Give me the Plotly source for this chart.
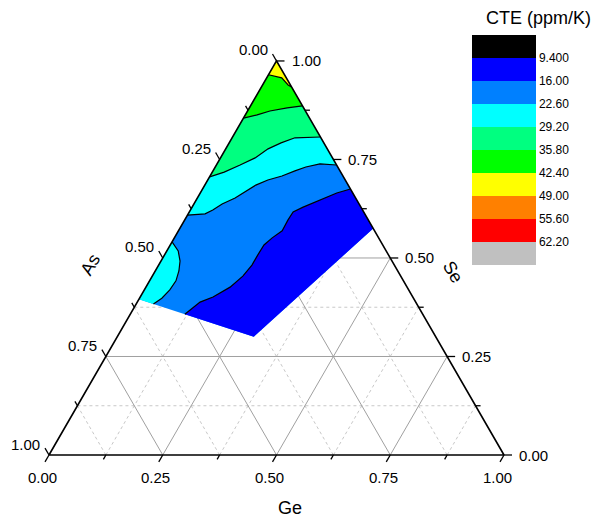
import numpy as np
import plotly.graph_objects as go

# CTE (ppm/K) contour levels and the colour of each band
levels = [9.4, 16.0, 22.6, 29.2, 35.8, 42.4, 49.0, 55.6, 62.2]
band_colors = ["#000000", "#0000FF", "#0080FF", "#00FFFF", "#00FF80",
               "#00FF00", "#FFFF00", "#FF8000", "#FF0000", "#C0C0C0"]

# Mapped composition domain (atomic fractions, As = 1 - Se - Ge)
# corners: Se apex, As-free edge end, lower corner, Ge-free edge end
domain_se = [1.0, 0.575, 0.30, 0.395]
domain_ge = [0.0, 0.425, 0.30, 0.0]

# Isolines (Se, Ge) of the CTE map
iso_16_se = [0.357, 0.388, 0.401, 0.426, 0.454, 0.482, 0.508, 0.533,
             0.551, 0.569, 0.596, 0.617, 0.629, 0.647, 0.665, 0.675]
iso_16_ge = [0.120, 0.138, 0.160, 0.185, 0.199, 0.205, 0.205, 0.206,
             0.215, 0.228, 0.227, 0.228, 0.244, 0.272, 0.300, 0.325]

iso_226_se = [0.609, 0.612, 0.622, 0.637, 0.652, 0.670, 0.685, 0.698,
              0.708, 0.721, 0.731, 0.739, 0.736]
iso_226_ge = [0.000, 0.037, 0.049, 0.062, 0.083, 0.100, 0.112, 0.132,
              0.158, 0.180, 0.199, 0.226, 0.264]

# closed 22.6 contour near the As-rich, Ge-free edge
iso_226b_se = [0.541, 0.518, 0.492, 0.467, 0.442, 0.419, 0.398, 0.383]
iso_226b_ge = [0.000, 0.025, 0.042, 0.052, 0.058, 0.056, 0.049, 0.038]

iso_292_se = [0.706, 0.718, 0.736, 0.754, 0.777, 0.792, 0.805, 0.807, 0.807]
iso_292_ge = [0.000, 0.026, 0.052, 0.076, 0.093, 0.114, 0.138, 0.166, 0.193]

iso_358_se = [0.855, 0.863, 0.873, 0.881, 0.886]
iso_358_ge = [0.000, 0.026, 0.049, 0.083, 0.114]

iso_424_se = [0.965, 0.957, 0.939, 0.934]
iso_424_ge = [0.000, 0.033, 0.056, 0.066]

major_ticks = [0.0, 0.25, 0.5, 0.75, 1.0]
minor_ticks = [0.125, 0.375, 0.625, 0.875]

FONT = "Arial, Liberation Sans, sans-serif"
W, H = 595, 519
SIDE_PX = 455.0          # triangle side length in pixels
OX, OY = 49.0, 64.0      # pixel offset of the As corner from the left / bottom

H3 = np.sqrt(3) / 2


def to_xy(se, ge):
    """Ternary (Se, Ge) -> cartesian with Ge corner at (1,0), Se apex on top."""
    se = np.asarray(se, dtype=float)
    ge = np.asarray(ge, dtype=float)
    return ge + se / 2.0, se * H3


def seg_trace(segments, color, width, dash="solid"):
    xs, ys = [], []
    for (se0, ge0), (se1, ge1) in segments:
        x, y = to_xy([se0, se1], [ge0, ge1])
        xs += list(x) + [None]
        ys += list(y) + [None]
    return go.Scatter(x=xs, y=ys, mode="lines", hoverinfo="skip",
                      line=dict(color=color, width=width, dash=dash))


def grid_segments(vals):
    segs = []
    for v in vals:
        segs.append(((v, 0.0), (v, 1.0 - v)))             # constant Se
        segs.append(((0.0, v), (1.0 - v, v)))             # constant Ge
        segs.append(((0.0, 1.0 - v), (1.0 - v, 0.0)))     # constant As
    return segs


fig = go.Figure()

# grid (drawn first so the map hides it)
fig.add_trace(seg_trace(grid_segments(minor_ticks), "#c8c8c8", 1, "dot"))
fig.add_trace(seg_trace(grid_segments([0.25, 0.5, 0.75]), "#a0a0a0", 1))


def fill_poly(se, ge, color):
    x, y = to_xy(se, ge)
    fig.add_trace(go.Scatter(x=list(x) + [x[0]], y=list(y) + [y[0]],
                             mode="lines", fill="toself", fillcolor=color,
                             line=dict(width=0, color=color),
                             hoverinfo="skip"))


apex = (1.0, 0.0)
p_right = (domain_se[1], domain_ge[1])
p_low = (domain_se[2], domain_ge[2])
p_left = (domain_se[3], domain_ge[3])

# 16.0 - 22.6 band covers the whole domain underneath
fill_poly(domain_se, domain_ge, band_colors[2])
# 9.4 - 16.0 band below the 16.0 isoline
fill_poly(iso_16_se + [p_right[0], p_low[0]],
          iso_16_ge + [p_right[1], p_low[1]], band_colors[1])
# bands above each higher isoline, stacked toward the Se apex
fill_poly(iso_226_se + [apex[0]], iso_226_ge + [apex[1]], band_colors[3])
fill_poly(iso_226b_se + [p_left[0]], iso_226b_ge + [p_left[1]], band_colors[3])
fill_poly(iso_292_se + [apex[0]], iso_292_ge + [apex[1]], band_colors[4])
fill_poly(iso_358_se + [apex[0]], iso_358_ge + [apex[1]], band_colors[5])
fill_poly(iso_424_se + [apex[0]], iso_424_ge + [apex[1]], band_colors[6])

# contour lines
for se, ge in [(iso_16_se, iso_16_ge), (iso_226_se, iso_226_ge),
               (iso_226b_se, iso_226b_ge), (iso_292_se, iso_292_ge),
               (iso_358_se, iso_358_ge), (iso_424_se, iso_424_ge)]:
    x, y = to_xy(se, ge)
    fig.add_trace(go.Scatter(x=x, y=y, mode="lines", hoverinfo="skip",
                             line=dict(color="black", width=1.2)))

# triangle frame
tx, ty = to_xy([0.0, 0.0, 1.0, 0.0], [0.0, 1.0, 0.0, 0.0])
fig.add_trace(go.Scatter(x=tx, y=ty, mode="lines", hoverinfo="skip",
                         line=dict(color="black", width=1.6)))

# tick marks: each one extends its own constant-value line outward
unit = 1.0 / SIDE_PX
tick_dirs = {
    "As": (-0.5, H3),     # up-left off the left edge
    "Ge": (-0.5, -H3),    # down-left off the bottom edge
    "Se": (1.0, 0.0),     # horizontal off the right edge
}


def edge_point(axis, v):
    if axis == "As":
        return to_xy(1.0 - v, 0.0)
    if axis == "Ge":
        return to_xy(0.0, v)
    return to_xy(v, 1.0 - v)


tx, ty = [], []
for axis, (dx, dy) in tick_dirs.items():
    for vals, ln in [(major_ticks, 8), (minor_ticks, 5)]:
        for v in vals:
            x0, y0 = edge_point(axis, v)
            x0, y0 = float(x0), float(y0)
            tx += [x0, x0 + dx * ln * unit, None]
            ty += [y0, y0 + dy * ln * unit, None]
fig.add_trace(go.Scatter(x=tx, y=ty, mode="lines", hoverinfo="skip",
                         line=dict(color="black", width=1.3)))

# colour bar legend, lowest CTE band at the top: the bar runs on -CTE
n_band = len(band_colors)
step = levels[1] - levels[0]
cscale = []
for i, c in enumerate(reversed(band_colors)):
    cscale += [[i / n_band, c], [(i + 1) / n_band, c]]
fig.add_trace(go.Scatter(
    x=[0.5], y=[0.3], mode="markers", hoverinfo="skip",
    marker=dict(size=1, opacity=0, color=[-levels[0]], colorscale=cscale,
                cmin=-(levels[-1] + step), cmax=-(levels[0] - step),
                showscale=True,
                colorbar=dict(
                    x=472 / W, xanchor="left", xpad=0,
                    y=1 - 35 / H, yanchor="top", ypad=0,
                    thickness=64, thicknessmode="pixels",
                    len=230, lenmode="pixels",
                    outlinewidth=0, ticks="", ticklen=0,
                    tickvals=[-v for v in levels],
                    ticktext=[f"{v:#.4g}" for v in levels],
                    tickfont=dict(family=FONT, size=12, color="black"),
                ))))

annotations = []
label_font = dict(family=FONT, size=15, color="black")
for v in major_ticks:
    x, y = edge_point("As", v)
    annotations.append(dict(x=float(x), y=float(y), text=f"{v:.2f}",
                            xanchor="right", yanchor="middle",
                            xshift=-7, yshift=11, showarrow=False,
                            font=label_font))
    x, y = edge_point("Ge", v)
    annotations.append(dict(x=float(x), y=float(y), text=f"{v:.2f}",
                            xanchor="center", yanchor="middle",
                            xshift=-7, yshift=-22, showarrow=False,
                            font=label_font))
    x, y = edge_point("Se", v)
    annotations.append(dict(x=float(x), y=float(y), text=f"{v:.2f}",
                            xanchor="left", yanchor="middle",
                            xshift=13, yshift=0, showarrow=False,
                            font=label_font))

title_font = dict(family=FONT, size=18, color="black")
centered = dict(xref="paper", yref="paper", xanchor="center",
                yanchor="middle", showarrow=False, font=title_font)
annotations += [
    dict(x=290 / W, y=1 - 508 / H, text="Ge", **centered),
    dict(x=90 / W, y=1 - 265 / H, text="As", textangle=-60, **centered),
    dict(x=453 / W, y=1 - 272 / H, text="Se", textangle=60, **centered),
    dict(x=538 / W, y=1 - 18 / H, text="CTE (ppm/K)", **centered),
]

fig.update_layout(
    width=W, height=H,
    margin=dict(l=0, r=0, t=0, b=0),
    paper_bgcolor="white", plot_bgcolor="white",
    showlegend=False,
    xaxis=dict(visible=False, range=[-OX / SIDE_PX, (W - OX) / SIDE_PX],
               fixedrange=True),
    yaxis=dict(visible=False, range=[-OY / SIDE_PX, (H - OY) / SIDE_PX],
               fixedrange=True),
    annotations=annotations,
)

fig.write_html("out.html")
